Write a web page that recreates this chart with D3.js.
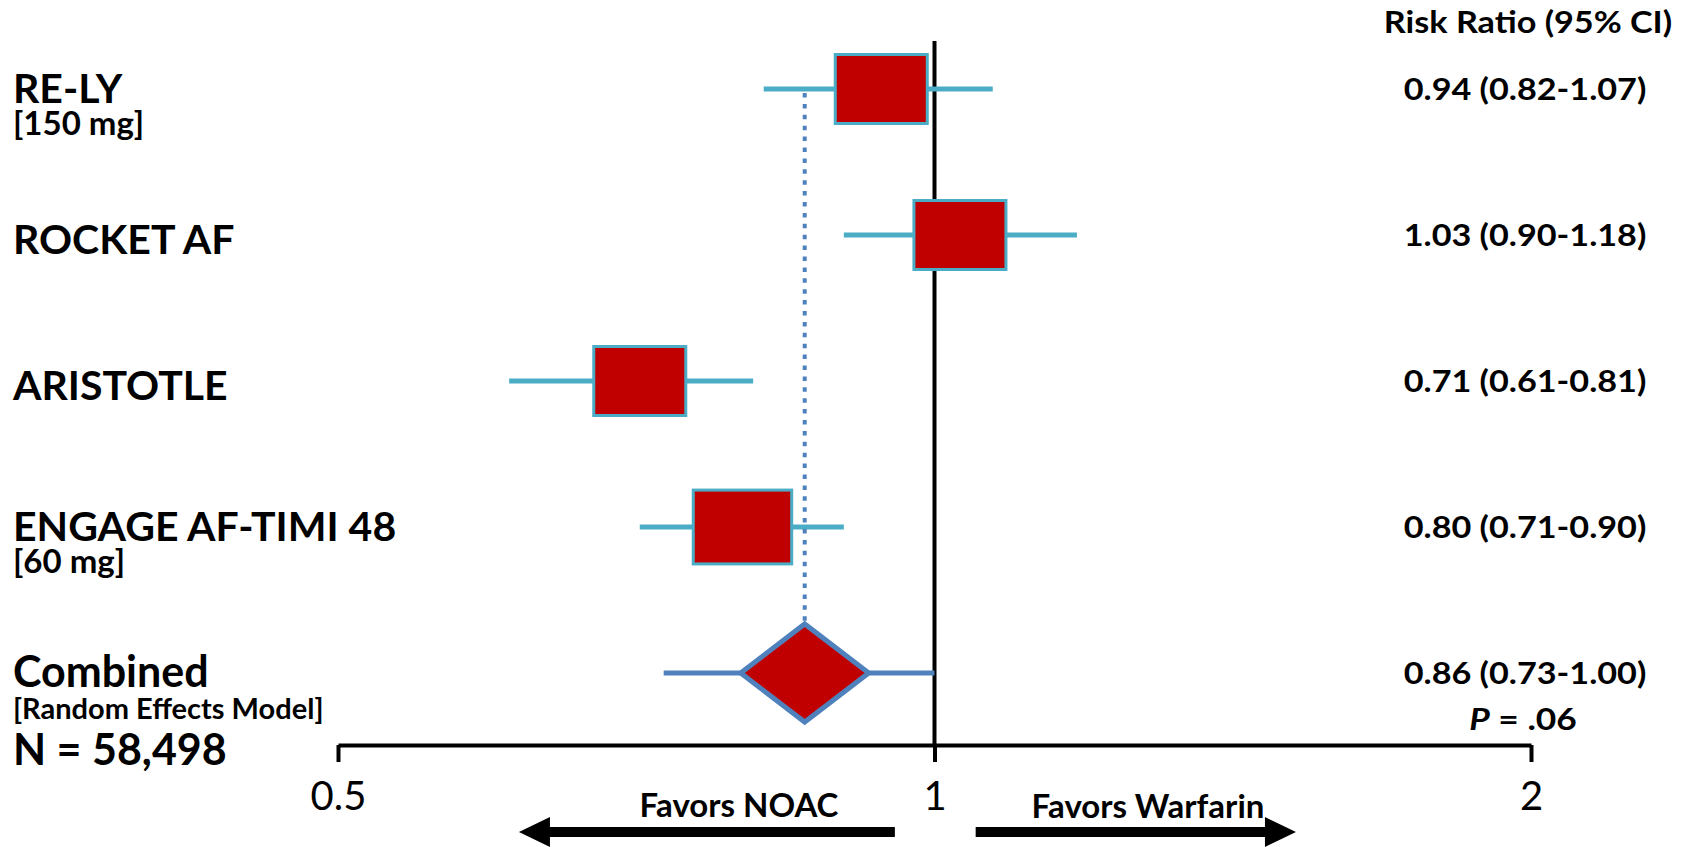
<!DOCTYPE html>
<html>
<head>
<meta charset="utf-8">
<script src="https://cdn.jsdelivr.net/npm/d3@7"></script>
<style>
  body { margin: 0; background: #fff; }
  svg { display: block; font-family: Lato, "Open Sans", sans-serif; }
</style>
</head>
<body>
<svg id="chart" width="1688" height="847"></svg>
<script>
// forest plot: NOAC vs warfarin, risk ratios
const studies = ["RE-LY", "ROCKET AF", "ARISTOTLE", "ENGAGE AF-TIMI 48", "Combined"];
const doses = ["[150 mg]", "", "", "[60 mg]", "[Random Effects Model]"];
const rr = [0.94, 1.03, 0.71, 0.80, 0.86];
const lower = [0.82, 0.90, 0.61, 0.71, 0.73];
const upper = [1.07, 1.18, 0.81, 0.90, 1.00];
const xTicks = [0.5, 1, 2];
const totalN = "N = 58,498";
const pValue = ".06";
// arrow extents in risk-ratio units
const noacArrow = [0.955, 0.617];
const warfArrow = [1.049, 1.522];

const width = 1688, height = 847;
const svg = d3.select("#chart");

const x = d3.scaleLog().domain([0.5, 2]).range([338, 1531]);
const y = d3.scalePoint().domain(studies).range([89, 673]);
const axisY = 745;
const fmt = d3.format(".2f");

const rows = studies.map((s, i) => ({
  name: s, dose: doses[i], rr: rr[i], lo: lower[i], hi: upper[i],
  combined: i === studies.length - 1, i
}));
const trials = rows.filter(d => !d.combined);
const pooled = rows[rows.length - 1];

// line of no effect
svg.append("line")
  .attr("x1", x(1)).attr("x2", x(1))
  .attr("y1", 41).attr("y2", axisY)
  .attr("stroke", "#000").attr("stroke-width", 4);

// axis
const axis = svg.append("g")
  .attr("transform", `translate(0,${axisY})`)
  .call(d3.axisBottom(x).tickValues(xTicks).tickFormat(d3.format(""))
    .tickSize(17).tickSizeOuter(0).tickPadding(20));
axis.select(".domain").attr("stroke", "#000").attr("stroke-width", 4);
axis.selectAll(".tick line").attr("stroke", "#000").attr("stroke-width", 4);
axis.selectAll(".tick text")
  .attr("fill", "#000")
  .style("font-family", "Lato, sans-serif")
  .style("font-size", "40px");

// confidence intervals
svg.append("g").selectAll("line")
  .data(rows)
  .join("line")
  .attr("x1", d => x(d.lo)).attr("x2", d => x(d.hi))
  .attr("y1", d => y(d.name)).attr("y2", d => y(d.name))
  .attr("stroke", d => d.combined ? "#4f81bd" : "#4bacc6")
  .attr("stroke-width", 5);

// dotted line at pooled estimate
const dH = 49, dW = 64;
svg.append("line")
  .attr("x1", x(pooled.rr)).attr("x2", x(pooled.rr))
  .attr("y1", y(studies[0]) + 4).attr("y2", y(pooled.name) - dH)
  .attr("stroke", "#4f81bd").attr("stroke-width", 4)
  .attr("stroke-dasharray", "4.5 6.4");

// study boxes
const boxW = 92, boxH = 69;
const boxScale = d => d.i === 3 ? 1.07 : 1;
svg.append("g").selectAll("rect")
  .data(trials)
  .join("rect")
  .attr("x", d => x(d.rr) - boxW * boxScale(d) / 2)
  .attr("y", d => y(d.name) - boxH * boxScale(d) / 2)
  .attr("width", d => boxW * boxScale(d))
  .attr("height", d => boxH * boxScale(d))
  .attr("fill", "#c00000")
  .attr("stroke", "#4bacc6")
  .attr("stroke-width", 3);

// pooled diamond
const cx = x(pooled.rr), cy = y(pooled.name);
svg.append("path")
  .attr("d", `M${cx - dW},${cy}L${cx},${cy - dH}L${cx + dW},${cy}L${cx},${cy + dH}Z`)
  .attr("fill", "#c00000")
  .attr("stroke", "#4f81bd")
  .attr("stroke-width", 5)
  .attr("stroke-linejoin", "miter");

// left labels
const left = svg.append("g").attr("font-weight", 700).attr("fill", "#000");
rows.forEach(d => {
  const yy = y(d.name);
  left.append("text")
    .attr("x", 13).attr("y", d.dose ? yy + 14 : yy + 19)
    .attr("font-size", d.combined ? 43 : 41).text(d.name);
  if (d.dose) {
    left.append("text")
      .attr("x", 13).attr("y", yy + 46)
      .attr("font-size", d.combined ? 29 : 33).text(d.dose);
  }
});
left.append("text")
  .attr("x", 13).attr("y", 765)
  .attr("font-size", 43).text(totalN);

// right column (text is a bit wide in the source, stretch it)
const sx = 1.14;
const right = svg.append("g").attr("font-weight", 700).attr("fill", "#000")
  .attr("text-anchor", "middle");
right.append("text")
  .attr("transform", `translate(1528,33) scale(${sx},1)`)
  .attr("font-size", 30).text("Risk Ratio (95% CI)");
right.selectAll("text.val")
  .data(rows)
  .join("text")
  .attr("class", "val")
  .attr("transform", d => `translate(1525,${y(d.name) + 11}) scale(${sx},1)`)
  .attr("font-size", 30)
  .text(d => `${fmt(d.rr)} (${fmt(d.lo)}-${fmt(d.hi)})`);
const p = right.append("text")
  .attr("transform", `translate(1523,730) scale(${sx},1)`)
  .attr("font-size", 31);
p.append("tspan").attr("font-style", "italic").text("P");
p.append("tspan").text(" = " + pValue);

// direction arrows
const arrowY = 832, shaft = 5, head = 15, headLen = 31;
function arrow(from, to) {
  const x0 = x(from), x1 = x(to);
  const dir = Math.sign(x1 - x0);
  const xb = x1 - dir * headLen;
  return `M${x0},${arrowY - shaft}L${xb},${arrowY - shaft}L${xb},${arrowY - head}` +
    `L${x1},${arrowY}L${xb},${arrowY + head}L${xb},${arrowY + shaft}L${x0},${arrowY + shaft}Z`;
}
svg.append("path").attr("d", arrow(...noacArrow)).attr("fill", "#000");
svg.append("path").attr("d", arrow(...warfArrow)).attr("fill", "#000");

const fav = svg.append("g").attr("font-weight", 700).attr("font-size", 33)
  .attr("text-anchor", "middle").attr("fill", "#000");
fav.append("text").attr("x", 739).attr("y", 817).text("Favors NOAC");
fav.append("text").attr("x", 1148).attr("y", 818).text("Favors Warfarin");
</script>
</body>
</html>
